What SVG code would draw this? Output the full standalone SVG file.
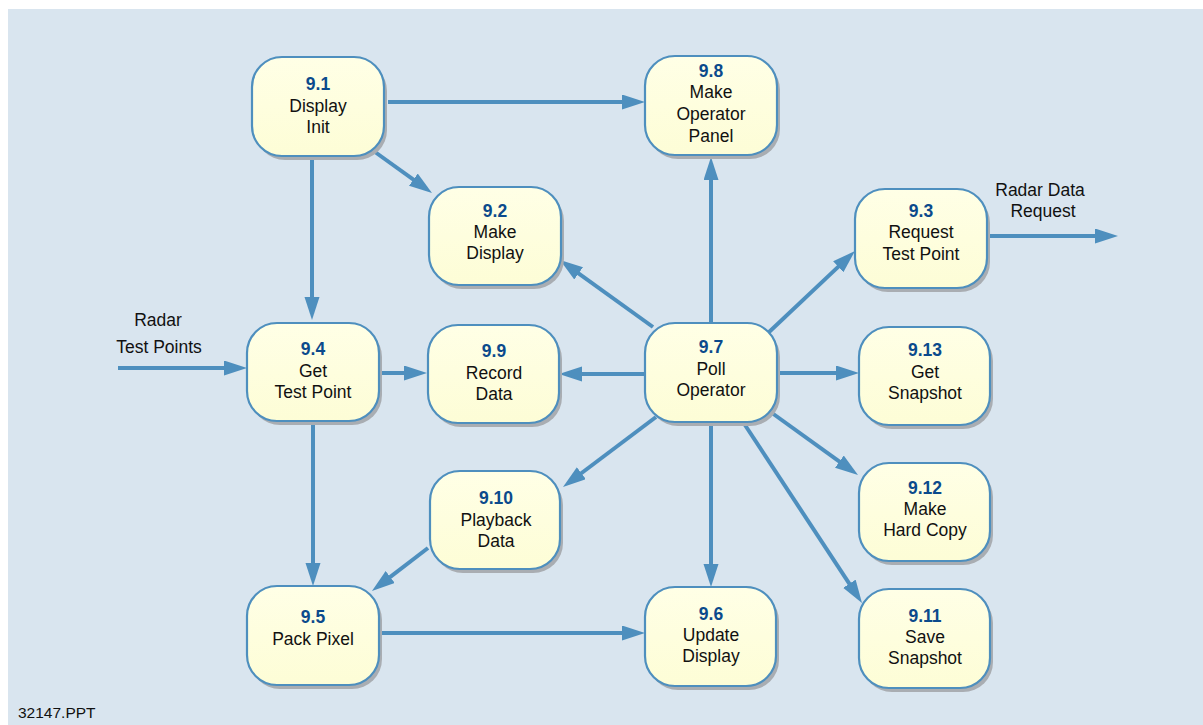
<svg xmlns="http://www.w3.org/2000/svg" width="1203" height="725" viewBox="0 0 1203 725">
<defs>
<linearGradient id="nf" x1="0" y1="0" x2="0" y2="1">
<stop offset="0" stop-color="#ffffe6"/>
<stop offset="1" stop-color="#fdfdd6"/>
</linearGradient>
<marker id="ah" markerUnits="userSpaceOnUse" markerWidth="24" markerHeight="16" refX="13" refY="7.5" orient="auto">
<path d="M0,0 L23,7.5 L0,15 z" fill="#4e8fbe"/>
</marker>
<style>
.sh{fill:#a9adb2}
.nd{fill:url(#nf);stroke:#4e8fbe;stroke-width:2.2}
.t{font-family:"Liberation Sans",Arial,sans-serif;font-size:17.5px;fill:#111;text-anchor:middle}
.n{font-weight:bold;fill:#0b4a8c}
.c{stroke:#4e8fbe;stroke-width:4;fill:none;marker-end:url(#ah)}
.lb{font-family:"Liberation Sans",Arial,sans-serif;font-size:17.5px;fill:#111;text-anchor:middle}
</style>
</defs>
<rect x="0" y="0" width="1203" height="725" fill="#ffffff"/>
<rect x="8" y="9" width="1195" height="716" fill="#d9e5ef"/>

<g id="connectors">
<line class="c" x1="388" y1="102" x2="635" y2="102"/>
<line class="c" x1="375" y1="152" x2="423.9" y2="187.2"/>
<line class="c" x1="312" y1="157" x2="312" y2="310"/>
<line class="c" x1="118" y1="368" x2="237" y2="368"/>
<line class="c" x1="379" y1="373" x2="417" y2="373"/>
<line class="c" x1="313" y1="420" x2="313" y2="576"/>
<line class="c" x1="428" y1="548" x2="379.9" y2="584.9"/>
<line class="c" x1="380" y1="633" x2="635" y2="633"/>
<line class="c" x1="711" y1="322" x2="711" y2="167"/>
<line class="c" x1="653" y1="327" x2="568.1" y2="265.8"/>
<line class="c" x1="768" y1="333" x2="847.7" y2="257.9"/>
<line class="c" x1="645" y1="374" x2="569" y2="374"/>
<line class="c" x1="777" y1="373" x2="849" y2="373"/>
<line class="c" x1="656" y1="417" x2="571" y2="481"/>
<line class="c" x1="711" y1="423" x2="711" y2="577"/>
<line class="c" x1="772" y1="413" x2="849.9" y2="469.2"/>
<line class="c" x1="745" y1="425" x2="856.5" y2="594.6"/>
<line class="c" x1="987" y1="236" x2="1108" y2="236"/>
</g>

<g id="n91">
<rect class="sh" x="255" y="61" width="132" height="99" rx="30"/>
<rect class="nd" x="252" y="57" width="132" height="99" rx="30"/>
<text class="t n" x="318" y="90">9.1</text>
<text class="t" x="318" y="112">Display</text>
<text class="t" x="318" y="133">Init</text>
</g>
<g id="n98">
<rect class="sh" x="648" y="60" width="132" height="99" rx="30"/>
<rect class="nd" x="645" y="56" width="132" height="99" rx="30"/>
<text class="t n" x="711" y="77">9.8</text>
<text class="t" x="711" y="98">Make</text>
<text class="t" x="711" y="120">Operator</text>
<text class="t" x="711" y="142">Panel</text>
</g>
<g id="n92">
<rect class="sh" x="432" y="191" width="132" height="98" rx="30"/>
<rect class="nd" x="429" y="187" width="132" height="98" rx="30"/>
<text class="t n" x="495" y="217">9.2</text>
<text class="t" x="495" y="238">Make</text>
<text class="t" x="495" y="259">Display</text>
</g>
<g id="n93">
<rect class="sh" x="858" y="193" width="132" height="99" rx="30"/>
<rect class="nd" x="855" y="189" width="132" height="99" rx="30"/>
<text class="t n" x="921" y="217">9.3</text>
<text class="t" x="921" y="238">Request</text>
<text class="t" x="921" y="260">Test Point</text>
</g>
<g id="n94">
<rect class="sh" x="250" y="327" width="132" height="98" rx="30"/>
<rect class="nd" x="247" y="323" width="132" height="98" rx="30"/>
<text class="t n" x="313" y="355">9.4</text>
<text class="t" x="313" y="377">Get</text>
<text class="t" x="313" y="398">Test Point</text>
</g>
<g id="n99">
<rect class="sh" x="431" y="329" width="131" height="98" rx="30"/>
<rect class="nd" x="428" y="325" width="131" height="98" rx="30"/>
<text class="t n" x="494" y="357">9.9</text>
<text class="t" x="494" y="379">Record</text>
<text class="t" x="494" y="400">Data</text>
</g>
<g id="n97">
<rect class="sh" x="648" y="327" width="132" height="99" rx="30"/>
<rect class="nd" x="645" y="323" width="132" height="99" rx="30"/>
<text class="t n" x="711" y="353">9.7</text>
<text class="t" x="711" y="375">Poll</text>
<text class="t" x="711" y="396">Operator</text>
</g>
<g id="n913">
<rect class="sh" x="862" y="331" width="131" height="98" rx="30"/>
<rect class="nd" x="859" y="327" width="131" height="98" rx="30"/>
<text class="t n" x="925" y="356">9.13</text>
<text class="t" x="925" y="378">Get</text>
<text class="t" x="925" y="399">Snapshot</text>
</g>
<g id="n910">
<rect class="sh" x="433" y="475" width="130" height="98" rx="30"/>
<rect class="nd" x="430" y="471" width="130" height="98" rx="30"/>
<text class="t n" x="496" y="504">9.10</text>
<text class="t" x="496" y="526">Playback</text>
<text class="t" x="496" y="547">Data</text>
</g>
<g id="n912">
<rect class="sh" x="862" y="467" width="131" height="98" rx="30"/>
<rect class="nd" x="859" y="463" width="131" height="98" rx="30"/>
<text class="t n" x="925" y="494">9.12</text>
<text class="t" x="925" y="515">Make</text>
<text class="t" x="925" y="536">Hard Copy</text>
</g>
<g id="n95">
<rect class="sh" x="250" y="590" width="132" height="99" rx="30"/>
<rect class="nd" x="247" y="586" width="132" height="99" rx="30"/>
<text class="t n" x="313" y="623">9.5</text>
<text class="t" x="313" y="645">Pack Pixel</text>
</g>
<g id="n96">
<rect class="sh" x="648" y="591" width="131" height="99" rx="30"/>
<rect class="nd" x="645" y="587" width="131" height="99" rx="30"/>
<text class="t n" x="711" y="620">9.6</text>
<text class="t" x="711" y="641">Update</text>
<text class="t" x="711" y="662">Display</text>
</g>
<g id="n911">
<rect class="sh" x="862" y="593" width="131" height="99" rx="30"/>
<rect class="nd" x="859" y="589" width="131" height="99" rx="30"/>
<text class="t n" x="925" y="622">9.11</text>
<text class="t" x="925" y="643">Save</text>
<text class="t" x="925" y="664">Snapshot</text>
</g>

<g id="labels">
<text class="lb" x="158" y="326">Radar</text>
<text class="lb" x="159" y="353">Test Points</text>
<text class="lb" x="1040" y="196">Radar Data</text>
<text class="lb" x="1043" y="217">Request</text>
<text font-family="Liberation Sans, Arial, sans-serif" font-size="15.5" fill="#111" x="18" y="718">32147.PPT</text>
</g>
</svg>
